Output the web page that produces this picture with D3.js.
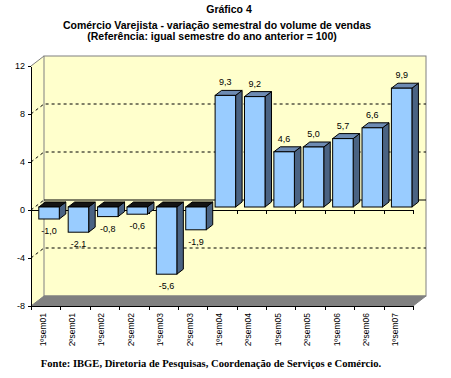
<!DOCTYPE html>
<html>
<head>
<meta charset="utf-8">
<script src="https://cdn.jsdelivr.net/npm/d3@7"></script>
<style>
  body { margin: 0; background: #fff; }
  svg { display: block; }
  .axis text { font-family: Arial, "Liberation Sans", sans-serif; font-size: 9px; fill: #000; }
  .axis path, .axis line { stroke: #000; shape-rendering: crispEdges; }
</style>
</head>
<body>
<div id="chart"></div>
<script>
var categories = ["1ºsem01", "2ºsem01", "1ºsem02", "2ºsem02", "1ºsem03", "2ºsem03",
  "1ºsem04", "2ºsem04", "1ºsem05", "2ºsem05", "1ºsem06", "2ºsem06", "1ºsem07"];
var values = [-1.0, -2.1, -0.8, -0.6, -5.6, -1.9, 9.3, 9.2, 4.6, 5.0, 5.7, 6.6, 9.9];
var yTicks = [-8, -4, 0, 4, 8, 12];
var gridValues = [-4, 4, 8];
var titleLines = ["Gráfico 4",
  "Comércio Varejista - variação semestral do volume de vendas",
  "(Referência: igual semestre do ano anterior = 100)"];
var source = "Fonte: IBGE, Diretoria de Pesquisas, Coordenação de Serviços e Comércio.";

var W = 451, H = 378;
var x0 = 31, x1 = 413;       // front plane
var depthX = 13, depthY = -10; // wall depth
var barDX = 6.5, barDY = -5;   // bar depth

var svg = d3.select("#chart").append("svg")
  .attr("width", W).attr("height", H);

var y = d3.scaleLinear().domain([-8, 12]).range([306, 66]);
var x = d3.scaleBand().domain(categories).range([x0, x1]);
var xEdge = d3.scaleLinear().domain([0, categories.length]).range([x0, x1]);

var fmt = function(v) { return d3.format(".1f")(v).replace(".", ",").replace("\u2212", "-"); };

// titles
var titleX = [229, 217, 212];
var titleY = [12.5, 28.5, 39.5];
svg.selectAll(".title").data(titleLines).enter().append("text")
  .attr("class", "title")
  .attr("x", function(d, i) { return titleX[i]; })
  .attr("y", function(d, i) { return titleY[i]; })
  .attr("text-anchor", "middle")
  .style("font-family", "Arial, 'Liberation Sans', sans-serif")
  .style("font-weight", "bold")
  .style("font-size", "10.5px")
  .text(function(d) { return d; });

// walls
var topY = y(12), botY = y(-8);
svg.append("polygon")
  .attr("points", [[x0, topY], [x0 + depthX, topY + depthY], [x0 + depthX, botY + depthY], [x0, botY]].join(" "))
  .attr("fill", "#ffffcc").attr("stroke", "none");
svg.append("rect")
  .attr("x", x0 + depthX).attr("y", topY + depthY)
  .attr("width", x1 - x0).attr("height", botY - topY)
  .attr("fill", "#ffffcc").attr("stroke", "#808080");
svg.append("line")
  .attr("x1", x0).attr("y1", topY).attr("x2", x0 + depthX).attr("y2", topY + depthY)
  .attr("stroke", "#808080");

// floor
svg.append("polygon")
  .attr("points", [[x0, botY], [x0 + depthX, botY + depthY], [x1 + depthX, botY + depthY], [x1, botY]].join(" "))
  .attr("fill", "#808080").attr("stroke", "#808080");

// gridlines
svg.selectAll(".grid").data(gridValues).enter().append("polyline")
  .attr("class", "grid")
  .attr("points", function(d) {
    return [[x0, y(d)], [x0 + depthX, y(d) + depthY], [x1 + depthX, y(d) + depthY]].join(" ");
  })
  .attr("fill", "none").attr("stroke", "#000")
  .style("stroke-dasharray", "3,3");
svg.append("line")
  .attr("x1", x0).attr("y1", y(0)).attr("x2", x0 + depthX).attr("y2", y(0) + depthY)
  .attr("stroke", "#000").style("stroke-dasharray", "3,3");
svg.append("line")
  .attr("x1", x0 + depthX).attr("y1", y(0) + depthY).attr("x2", x1 + depthX).attr("y2", y(0) + depthY)
  .attr("stroke", "#000");

// y axis
svg.append("g").attr("class", "axis")
  .attr("transform", "translate(" + x0 + ",0)")
  .call(d3.axisLeft(y).tickValues(yTicks).tickSize(3).tickPadding(3).tickSizeOuter(0)
    .tickFormat(function(d) { return String(d); }));

// category axis lines (zero line and bottom)
var edgeTicks = d3.range(categories.length + 1);
[y(0), botY].forEach(function(yy) {
  svg.append("g").attr("class", "axis")
    .attr("transform", "translate(0," + yy + ")")
    .call(d3.axisBottom(xEdge).tickValues(edgeTicks).tickSize(4).tickSizeOuter(0).tickFormat(""));
});

// bars
var yb = function(v) { return y(v) - 3; };
var bars = svg.selectAll(".bar").data(values).enter().append("g").attr("class", "bar");
var bw = 20.5;
function bx(i) { return x(categories[i]) + 7.8; }

bars.append("polygon") // side
  .attr("points", function(d, i) {
    var t = Math.min(yb(d), yb(0)), b = Math.max(yb(d), yb(0)), r = bx(i) + bw;
    return [[r, t], [r + barDX, t + barDY], [r + barDX, b + barDY], [r, b]].join(" ");
  })
  .attr("fill", "#4a6383").attr("stroke", "#000");
bars.append("polygon") // top
  .attr("points", function(d, i) {
    var t = Math.min(yb(d), yb(0)), l = bx(i);
    return [[l, t], [l + barDX, t + barDY], [l + bw + barDX, t + barDY], [l + bw, t]].join(" ");
  })
  .attr("fill", function(d) { return d < 0 ? "#141414" : "#6d8bb3"; })
  .attr("stroke", "#000");
bars.append("rect") // front
  .attr("x", function(d, i) { return bx(i); })
  .attr("y", function(d) { return Math.min(yb(d), yb(0)); })
  .attr("width", bw)
  .attr("height", function(d) { return Math.abs(yb(d) - yb(0)); })
  .attr("fill", "#99ccff").attr("stroke", "#000");

// value labels
svg.selectAll(".vlabel").data(values).enter().append("text")
  .attr("class", "vlabel")
  .attr("x", function(d, i) { return bx(i) + bw / 2; })
  .attr("y", function(d) { return d < 0 ? yb(d) + 15 : yb(d) - 10; })
  .attr("text-anchor", "middle")
  .style("font-family", "Arial, 'Liberation Sans', sans-serif")
  .style("font-size", "9px")
  .text(fmt);

// category labels
svg.selectAll(".clabel").data(categories).enter().append("text")
  .attr("class", "clabel")
  .attr("transform", function(d) {
    return "translate(" + (x(d) + x.bandwidth() / 2 - 3) + "," + 313 + ") rotate(-90)";
  })
  .attr("dy", "0.35em")
  .attr("text-anchor", "end")
  .style("font-family", "Arial, 'Liberation Sans', sans-serif")
  .style("font-size", "8.5px")
  .text(function(d) { return d; });

// source
svg.append("text")
  .attr("x", 211).attr("y", 367)
  .attr("text-anchor", "middle")
  .style("font-family", "'Times New Roman', 'Liberation Serif', serif")
  .style("font-weight", "bold")
  .style("font-size", "10.6px")
  .text(source);
</script>
</body>
</html>
